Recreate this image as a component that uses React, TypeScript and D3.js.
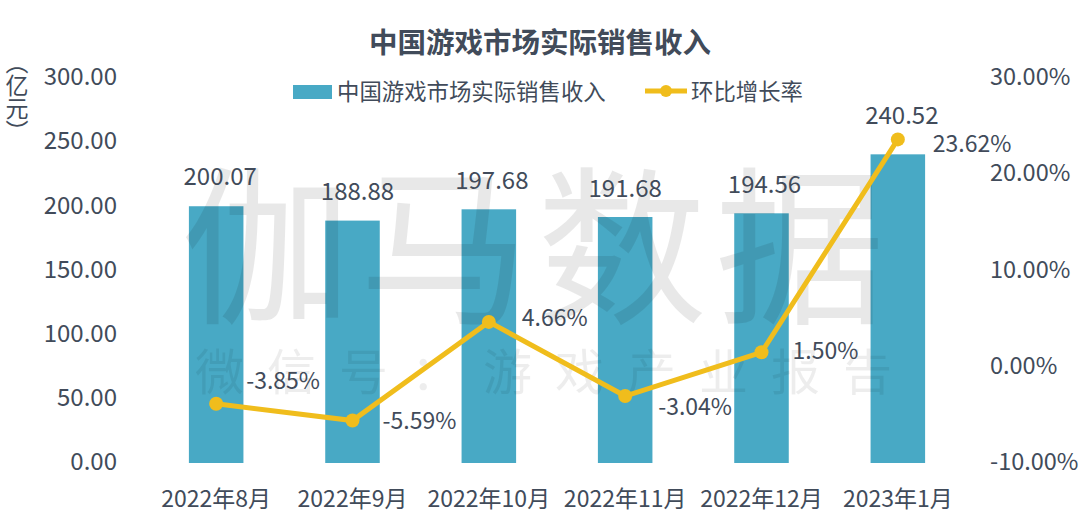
import {useEffect, useRef} from "react";
import * as d3 from "d3";

const months = ["2022年8月", "2022年9月", "2022年10月", "2022年11月", "2022年12月", "2023年1月"];
const revenue = [200.07, 188.88, 197.68, 191.68, 194.56, 240.52];
const growth = [-3.85, -5.59, 4.66, -3.04, 1.5, 23.62];
const revenueTicks = [0, 50, 100, 150, 200, 250, 300];
const growthTicks = [-10, 0, 10, 20, 30];

const title = "中国游戏市场实际销售收入";
const unit = "（亿元）";
const barName = "中国游戏市场实际销售收入";
const lineName = "环比增长率";
const watermark = "伽马数据";
const watermarkSub = "微信号：游戏产业报告";

// where each label sits relative to its bar top / line point
const revenueLabelOffset = [[4, -21], [5, -21], [3, -20], [0, -20], [3, -20], [4, -30]];
const growthLabelOffset = [[30, -25], [30, -2], [33, -6], [33, 9], [31, -3], [35, 3]];

const FONT = "'Noto Sans CJK SC', sans-serif";
const TEXT = "#414b5a";
const BAR = "#48a9c5";
const LINE = "#f0bd1c";

export default function App() {
  const svgRef = useRef<SVGSVGElement | null>(null);

  useEffect(() => {
    const svg = d3.select(svgRef.current);
    svg.selectAll("*").remove();

    const x = d3.scaleBand<string>().domain(months).range([148, 966]).paddingInner(0.6).paddingOuter(0.3);
    const yLeft = d3.scaleLinear().domain([0, 300]).range([463, 78]);
    const yRight = d3.scaleLinear().domain([-10, 30]).range([463, 78]);
    const cx = (m: string) => x(m)! + x.bandwidth() / 2;
    const ascii = (s: string) => s.replace("−", "-");

    // bars
    svg.append("g").selectAll("rect")
      .data(months)
      .enter().append("rect")
      .attr("x", d => x(d)!)
      .attr("y", (_, i) => yLeft(revenue[i]))
      .attr("width", x.bandwidth())
      .attr("height", (_, i) => yLeft(0) - yLeft(revenue[i]))
      .attr("fill", BAR);

    // watermark goes over the bars, under the line
    svg.append("text")
      .attr("x", 537).attr("y", 311)
      .attr("text-anchor", "middle")
      .attr("font-size", 170)
      .attr("letter-spacing", 8)
      .attr("fill", "#000").attr("fill-opacity", 0.09)
      .text(watermark);
    svg.append("text")
      .attr("x", 555).attr("y", 390)
      .attr("text-anchor", "middle")
      .attr("font-size", 49)
      .attr("letter-spacing", 23)
      .attr("fill", "#000").attr("fill-opacity", 0.07)
      .text(watermarkSub);

    // axes
    const left = svg.append("g").attr("transform", "translate(117,0)")
      .call(d3.axisLeft(yLeft).tickValues(revenueTicks).tickSize(0).tickPadding(0).tickFormat(d => d3.format(".2f")(+d)));
    const right = svg.append("g").attr("transform", "translate(990,0)")
      .call(d3.axisRight(yRight).tickValues(growthTicks).tickSize(0).tickPadding(0).tickFormat(d => ascii(d3.format(".2f")(+d)) + "%"));
    const bottom = svg.append("g").attr("transform", "translate(0,499)")
      .call(d3.axisBottom(x).tickSize(0).tickPadding(0));
    [left, right, bottom].forEach(g => {
      g.select(".domain").remove();
      g.selectAll("text").attr("font-family", FONT).attr("fill", TEXT);
    });
    left.selectAll("text").attr("font-size", 24).attr("y", -1);
    right.selectAll("text").attr("font-size", 23.5).attr("y", -1);
    bottom.selectAll("text").attr("font-size", 23).attr("dy", "0.35em");

    // bar labels
    svg.append("g").selectAll("text")
      .data(months)
      .enter().append("text")
      .attr("x", (d, i) => cx(d) + revenueLabelOffset[i][0])
      .attr("y", (_, i) => yLeft(revenue[i]) + revenueLabelOffset[i][1])
      .attr("text-anchor", "middle")
      .attr("font-size", 24)
      .attr("fill", TEXT)
      .text((_, i) => revenue[i].toFixed(2));

    // line
    const line = d3.line<string>()
      .x(cx)
      .y((_, i) => yRight(growth[i]));
    svg.append("path")
      .attr("d", line(months))
      .attr("fill", "none")
      .attr("stroke", LINE)
      .attr("stroke-width", 5);
    svg.append("g").selectAll("circle")
      .data(months)
      .enter().append("circle")
      .attr("cx", cx)
      .attr("cy", (_, i) => yRight(growth[i]))
      .attr("r", 7)
      .attr("fill", LINE);

    // line labels
    svg.append("g").selectAll("text")
      .data(months)
      .enter().append("text")
      .attr("x", (d, i) => cx(d) + growthLabelOffset[i][0])
      .attr("y", (_, i) => yRight(growth[i]) + growthLabelOffset[i][1])
      .attr("dominant-baseline", "central")
      .attr("font-size", 23)
      .attr("fill", TEXT)
      .text((_, i) => growth[i].toFixed(2) + "%");

    // title, unit
    svg.append("text")
      .attr("x", 540).attr("y", 40)
      .attr("dominant-baseline", "central")
      .attr("text-anchor", "middle")
      .attr("font-size", 28.5)
      .attr("font-weight", 700)
      .attr("fill", TEXT)
      .text(title);
    svg.append("text")
      .attr("x", 17).attr("y", 97)
      .attr("text-anchor", "middle")
      .attr("font-size", 23)
      .attr("fill", TEXT)
      .style("writing-mode", "vertical-rl")
      .text(unit);

    // legend
    const legend = svg.append("g");
    legend.append("rect")
      .attr("x", 293).attr("y", 85).attr("width", 39).attr("height", 14)
      .attr("fill", BAR);
    legend.append("text")
      .attr("x", 337).attr("y", 90)
      .attr("dominant-baseline", "central")
      .attr("font-size", 22.4).attr("fill", TEXT)
      .text(barName);
    legend.append("line")
      .attr("x1", 645).attr("x2", 687).attr("y1", 91).attr("y2", 91)
      .attr("stroke", LINE).attr("stroke-width", 5);
    legend.append("circle")
      .attr("cx", 666).attr("cy", 91).attr("r", 6).attr("fill", LINE);
    legend.append("text")
      .attr("x", 691).attr("y", 90)
      .attr("dominant-baseline", "central")
      .attr("font-size", 22.4).attr("fill", TEXT)
      .text(lineName);
  }, []);

  return (
    <svg ref={svgRef} width={1080} height={530} fontFamily={FONT}
      style={{position: "absolute", left: 0, top: 0, background: "#fff"}} />
  );
}
